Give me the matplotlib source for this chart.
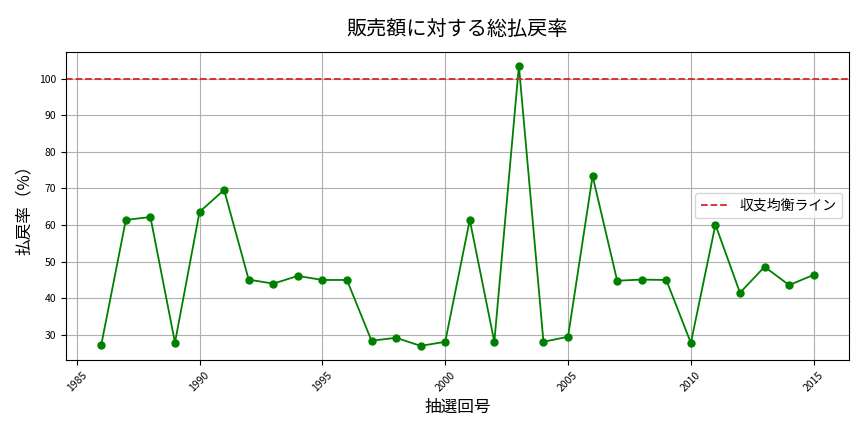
import numpy as np
import matplotlib
matplotlib.use('Agg')
from matplotlib import pyplot as plt

plt.rcParams['font.family'] = ['Noto Sans CJK JP', 'DejaVu Sans']

years = list(range(1986, 2016))
payout_rate = [27.3, 61.4, 62.2, 27.9, 63.6, 69.6, 45.1, 44.0, 46.1, 45.0,
               45.0, 28.4, 29.2, 27.0, 28.1, 61.4, 28.1, 103.5, 28.1, 29.5,
               73.4, 44.8, 45.1, 45.0, 27.8, 60.1, 41.5, 48.6, 43.6, 46.4]
breakeven = 100

fig = plt.figure(figsize=(8.64, 4.32), dpi=100)
ax = fig.add_axes([0.076, 0.167, 0.907, 0.713])

ax.plot(years, payout_rate, color='green', marker='o', markersize=5, linewidth=1.3)
ax.axhline(breakeven, color='#d62728', linestyle='--', linewidth=1.3, label='収支均衡ライン')

ax.set_title('販売額に対する総払戻率', fontsize=14.5, pad=12)
ax.set_xlabel('抽選回号', fontsize=12)
ax.set_ylabel('払戻率（%）', fontsize=12)
ax.tick_params(axis='x', labelrotation=45, labelsize=7.5)
ax.tick_params(axis='y', labelsize=7.5)
ax.grid(True, color='#b0b0b0', linewidth=0.8)
ax.legend(loc='center right', fontsize=10)

fig.savefig('out.png', dpi=100)
